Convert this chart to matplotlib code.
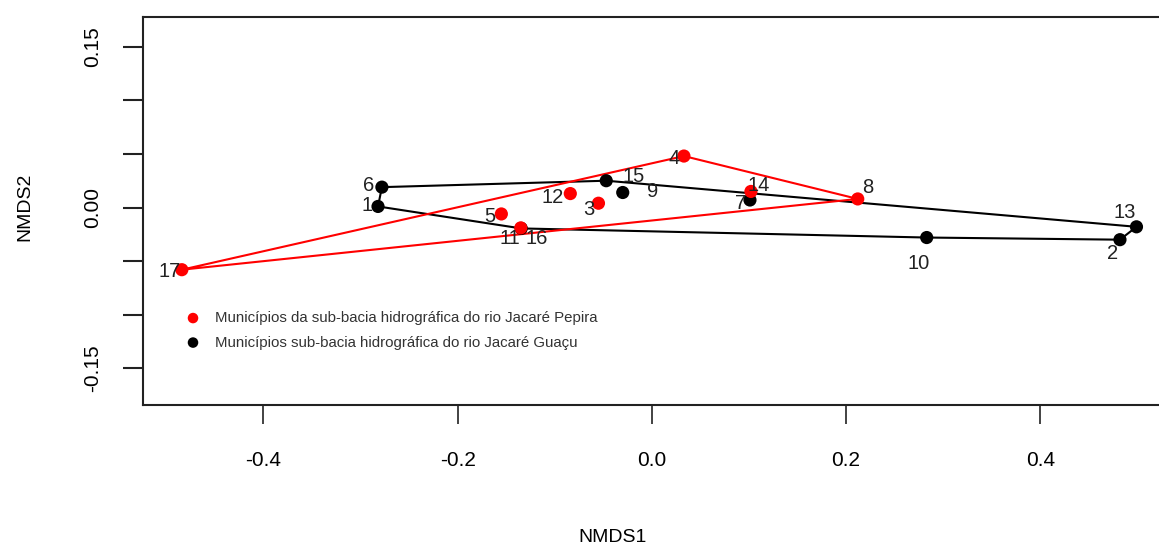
import matplotlib
matplotlib.use("Agg")
import matplotlib.pyplot as plt
import numpy as np

plt.rcParams['font.family'] = ['Liberation Sans', 'DejaVu Sans']

# NMDS scores of the municipalities
site_ids = ["1", "2", "3", "4", "5", "6", "7", "8", "9", "10",
            "11", "12", "13", "14", "15", "16", "17"]
nmds1 = [-0.282, 0.482, -0.055, 0.033, -0.155, -0.278, 0.101, 0.212, -0.030, 0.283,
         -0.1345, -0.084, 0.499, 0.102, -0.047, -0.135, -0.484]
nmds2 = [0.001, -0.030, 0.004, 0.048, -0.006, 0.019, 0.007, 0.008, 0.014, -0.028,
         -0.0195, 0.013, -0.018, 0.015, 0.025, -0.019, -0.058]
# 'P' = sub-bacia Jacaré Pepira, 'G' = sub-bacia Jacaré Guaçu
group = ["G", "G", "P", "P", "P", "G", "G", "P", "G", "G",
         "G", "P", "G", "P", "G", "P", "P"]
legend_labels = {"P": "Municípios da sub-bacia hidrográfica do rio Jacaré Pepira",
                 "G": "Municípios sub-bacia hidrográfica do rio Jacaré Guaçu"}

# label offsets in pixels (dx right, dy down) so numbers sit like the original
lab_off = {"1": (-11, -1), "2": (-7, 14), "3": (-10, 6), "4": (-10, 2), "5": (-12, 3),
           "6": (-13, -2), "7": (-9, 3), "8": (10, -11), "9": (30, -1), "10": (-8, 26),
           "11": (-11, 10), "12": (-18, 4), "13": (-12, -14), "14": (8, -6),
           "15": (27, -4), "16": (16, 11), "17": (-12, 2)}

colors = {"G": "black", "P": "red"}


def hull(pts):
    pts = sorted(set(pts))
    def cross(o, a, b):
        return (a[0]-o[0])*(b[1]-o[1]) - (a[1]-o[1])*(b[0]-o[0])
    lower, upper = [], []
    for p in pts:
        while len(lower) >= 2 and cross(lower[-2], lower[-1], p) <= 0:
            lower.pop()
        lower.append(p)
    for p in reversed(pts):
        while len(upper) >= 2 and cross(upper[-2], upper[-1], p) <= 0:
            upper.pop()
        upper.append(p)
    h = lower[:-1] + upper[:-1]
    return h + [h[0]]


W, H = 1159, 546
fig = plt.figure(figsize=(W/100, H/100), dpi=100)
ax = fig.add_axes([143/W, 141/H, 1043/W, 388/H])
ax.set_xlim(-0.524, 0.55)
ax.set_ylim(-0.1842, 0.1777)

x = np.array(nmds1)
y = np.array(nmds2)
g = np.array(group)

for key in ["G", "P"]:
    m = g == key
    h = hull(list(zip(x[m], y[m])))
    hx, hy = zip(*h)
    ax.plot(hx, hy, color=colors[key], lw=1.5, zorder=2)
    ax.scatter(x[m], y[m], s=90, color=colors[key], edgecolors='none', zorder=3,
               label=legend_labels[key])

for sid, xi, yi in zip(site_ids, nmds1, nmds2):
    dx, dy = lab_off[sid]
    ax.annotate(sid, (xi, yi), xytext=(dx*0.72, -dy*0.72), textcoords='offset points',
                ha='center', va='center', fontsize=14.5, color='#222222', zorder=4)

ax.set_xticks([-0.4, -0.2, 0.0, 0.2, 0.4])
ax.set_xticklabels(["-0.4", "-0.2", "0.0", "0.2", "0.4"])
yt = [-0.15, -0.10, -0.05, 0.0, 0.05, 0.10, 0.15]
ax.set_yticks(yt)
ax.set_yticklabels(["-0.15", "", "", "0.00", "", "", "0.15"], rotation=90, va='center')
ax.tick_params(axis='x', length=14, width=1.2, pad=19, labelsize=15, color='#222222')
ax.tick_params(axis='y', length=14.5, width=1.5, pad=15, labelsize=15, color='#222222')
for s in ax.spines.values():
    s.set_linewidth(1.5)
    s.set_color('#222222')

fig.text(613/W, 1-537/H, "NMDS1", ha='center', va='center', fontsize=14)
fig.text(25/W, 1-207/H, "NMDS2", ha='center', va='center', fontsize=14, rotation=90)

handles, labels = ax.get_legend_handles_labels()
order = [1, 0]
leg = ax.legend([handles[i] for i in order], [labels[i] for i in order],
                loc='upper left', bbox_to_anchor=(187/W, 1-311/H), bbox_transform=fig.transFigure,
                frameon=False, fontsize=10.8, handlelength=0.8, handletextpad=1.05,
                borderpad=0, borderaxespad=0, labelspacing=0.7, markerscale=0.8,
                labelcolor='#333333')

fig.savefig("out.png", dpi=100)
